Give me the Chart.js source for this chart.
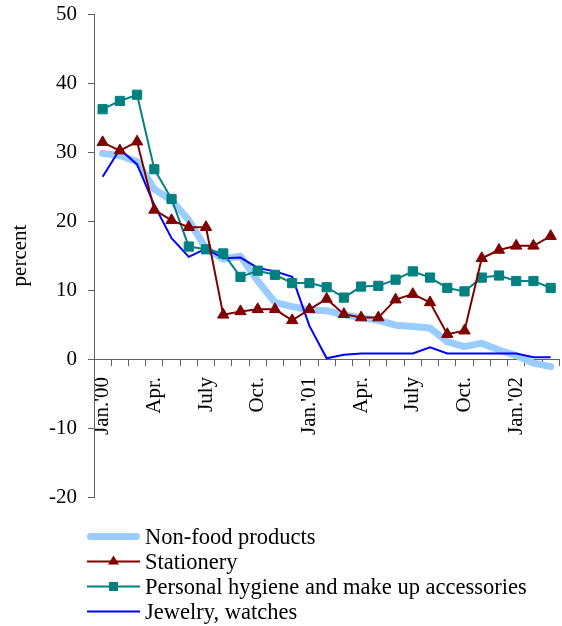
<!DOCTYPE html>
<html>
<head>
<meta charset="utf-8">
<script src="https://cdn.jsdelivr.net/npm/chart.js@4"></script>
<style>
  html, body { margin: 0; padding: 0; background: #fff; }
  #wrap { position: relative; width: 562px; height: 626px; }
  #legend { position: absolute; left: 87px; top: 524px; font-family: 'Liberation Serif', 'Times New Roman', serif; font-size: 22.5px; color: #000; }
  .row { display: flex; align-items: center; height: 25px; line-height: 25px; white-space: nowrap; }
  .row svg { width: 53px; height: 25px; margin-right: 5px; flex: none; }
</style>
</head>
<body>
<div id="wrap">
  <canvas id="c" width="562" height="626"></canvas>
  <div id="legend"></div>
</div>
<script>
const categories = [
  "Jan 2000","Feb 2000","Mar 2000","Apr 2000","May 2000","Jun 2000","Jul 2000","Aug 2000","Sep 2000","Oct 2000","Nov 2000","Dec 2000",
  "Jan 2001","Feb 2001","Mar 2001","Apr 2001","May 2001","Jun 2001","Jul 2001","Aug 2001","Sep 2001","Oct 2001","Nov 2001","Dec 2001",
  "Jan 2002","Feb 2002","Mar 2002"
];
const tickLabels = [
  "Jan.'00","","","Apr.","","","July","","","Oct.","","",
  "Jan.'01","","","Apr.","","","July","","","Oct.","","",
  "Jan.'02","",""
];
const yTicks = [-20, -10, 0, 10, 20, 30, 40, 50];

const nonFood    = [29.8, 29.5, 28.6, 24.6, 23.0, 20.1, 16.0, 14.5, 14.9, 11.3, 8.2, 7.6, 7.1, 7.0, 6.4, 6.0, 5.6, 4.9, 4.7, 4.5, 2.5, 1.8, 2.3, 1.3, 0.5, -0.6, -1.1];
const stationery = [31.4, 30.2, 31.5, 21.6, 20.1, 19.1, 19.1, 6.4, 6.9, 7.2, 7.2, 5.6, 7.2, 8.7, 6.5, 6.0, 6.0, 8.6, 9.4, 8.2, 3.6, 4.1, 14.6, 15.8, 16.4, 16.4, 17.8];
const hygiene    = [36.2, 37.4, 38.3, 27.5, 23.2, 16.3, 15.9, 15.3, 11.9, 12.8, 12.2, 11.0, 11.0, 10.4, 8.9, 10.5, 10.6, 11.5, 12.7, 11.8, 10.3, 9.8, 11.8, 12.1, 11.3, 11.3, 10.3];
const jewelry    = [26.4, 30.4, 28.2, 22.3, 17.5, 14.8, 16.0, 14.6, 14.7, 13.2, 12.7, 11.9, 4.8, 0.1, 0.6, 0.8, 0.8, 0.8, 0.8, 1.7, 0.8, 0.8, 0.8, 0.8, 0.8, 0.25, 0.25];

const seriesNames = ["Non-food products", "Stationery", "Personal hygiene and make up accessories", "Jewelry, watches"];

const FONT = "'Liberation Serif', 'Times New Roman', serif";

const datasets = [
  { label: seriesNames[0], data: nonFood, borderColor: '#99CCFF', backgroundColor: '#99CCFF', borderWidth: 7,
    pointRadius: 0, tension: 0, borderCapStyle: 'round', borderJoinStyle: 'round', order: 4 },
  { label: seriesNames[1], data: stationery, borderColor: '#800000', backgroundColor: '#800000', borderWidth: 2,
    pointStyle: 'triangle', pointRadius: 6.5, pointBorderWidth: 1, pointBackgroundColor: '#800000', pointBorderColor: '#800000', tension: 0, order: 1 },
  { label: seriesNames[2], data: hygiene, borderColor: '#008080', backgroundColor: '#008080', borderWidth: 2,
    pointStyle: 'rect', pointRadius: 6.5, pointBorderWidth: 1, pointBackgroundColor: '#008080', pointBorderColor: '#008080', tension: 0, order: 2 },
  { label: seriesNames[3], data: jewelry, borderColor: '#0000FF', backgroundColor: '#0000FF', borderWidth: 2,
    pointRadius: 0, tension: 0, order: 3 }
];

new Chart(document.getElementById('c'), {
  type: 'line',
  data: { labels: categories, datasets },
  options: {
    responsive: false,
    animation: false,
    layout: { autoPadding: false, padding: { top: 14, right: 2.7, bottom: 129, left: 0 } },
    plugins: { legend: { display: false }, tooltip: { enabled: false } },
    scales: {
      x: {
        type: 'category',
        offset: true,
        position: { y: 0 },
        grid: { offset: true, drawOnChartArea: false, drawTicks: true, tickLength: 6, color: '#606060', lineWidth: 1 },
        border: { display: true, color: '#606060', width: 1 },
        ticks: {
          autoSkip: false, minRotation: 90, maxRotation: 90, padding: 12, color: '#000',
          font: { family: FONT, size: 21 },
          callback: (v, i) => tickLabels[i]
        },
        afterFit: (s) => { s.paddingLeft = 0; s.paddingRight = 0; s.paddingTop = 0; s.paddingBottom = 0; }
      },
      y: {
        min: -20, max: 50,
        afterBuildTicks: (s) => { s.ticks = yTicks.map(v => ({ value: v })); },
        grid: { drawOnChartArea: false, drawTicks: true, tickLength: 6, color: '#606060' },
        border: { display: true, color: '#606060', width: 1 },
        ticks: { padding: 11, color: '#000', font: { family: FONT, size: 21 } },
        title: { display: true, text: 'percent', color: '#000', font: { family: FONT, size: 21 }, padding: { top: 8, bottom: 0 } },
        afterFit: (s) => { s.width = 94; s.paddingTop = 0; s.paddingBottom = 0; }
      }
    }
  }
});

// Legend (HTML, real text)
const legendEl = document.getElementById('legend');
const samples = [
  '<line x1="3.5" y1="12.5" x2="49.5" y2="12.5" stroke="#99CCFF" stroke-width="7" stroke-linecap="round"/>',
  '<line x1="0" y1="12.5" x2="53" y2="12.5" stroke="#800000" stroke-width="2"/><polygon points="26.5,6.5 32,15.5 21,15.5" fill="#800000"/>',
  '<line x1="0" y1="12.5" x2="53" y2="12.5" stroke="#008080" stroke-width="2"/><rect x="22" y="8" width="9" height="9" fill="#008080"/>',
  '<line x1="0" y1="12.5" x2="53" y2="12.5" stroke="#0000FF" stroke-width="2"/>'
];
seriesNames.forEach((name, i) => {
  const row = document.createElement('div');
  row.className = 'row';
  row.innerHTML = '<svg viewBox="0 0 53 25">' + samples[i] + '</svg><span></span>';
  row.querySelector('span').textContent = name;
  legendEl.appendChild(row);
});
</script>
</body>
</html>
